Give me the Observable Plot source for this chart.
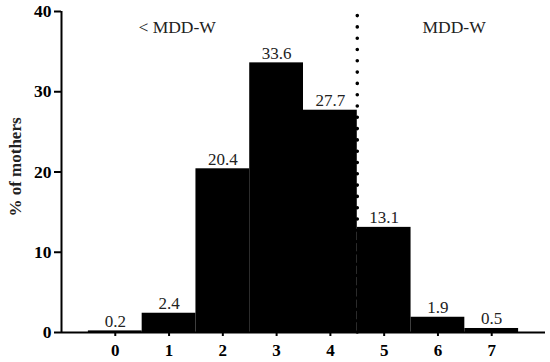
<!DOCTYPE html>
<html>
<head>
<meta charset="utf-8">
<script src="https://cdn.jsdelivr.net/npm/d3@7"></script>
<script src="https://cdn.jsdelivr.net/npm/@observablehq/plot@0.6"></script>
<style>
  html, body { margin: 0; padding: 0; background: #fff; }
  svg { display: block; }
</style>
</head>
<body>
<div id="chart"></div>
<script>
const categories = [0, 1, 2, 3, 4, 5, 6, 7];
const values = [0.2, 2.4, 20.4, 33.6, 27.7, 13.1, 1.9, 0.5];
const valueLabels = ["0.2", "2.4", "20.4", "33.6", "27.7", "13.1", "1.9", "0.5"];
const yTicks = [0, 10, 20, 30, 40];
const yTitle = "% of mothers";
const groupLabels = ["< MDD-W", "MDD-W"];
const cutoff = 4.5;

const data = categories.map((c, i) => ({ c, v: values[i], label: valueLabels[i] }));
const font = "Liberation Serif, Times New Roman, serif";

const chart = Plot.plot({
  width: 550,
  height: 362,
  marginLeft: 61,
  marginRight: 5,
  marginTop: 11,
  marginBottom: 30,
  style: { fontFamily: font, background: "#fff", color: "#000" },
  x: { type: "linear", domain: [-1, 8] },
  y: { domain: [0, 40] },
  marks: [
    Plot.rectY(data, { x1: d => d.c - 0.5, x2: d => d.c + 0.5, y1: 0, y2: "v", fill: "#000" }),
    Plot.ruleX([cutoff], { y1: 0, y2: 39.7, stroke: "#000", strokeWidth: 3.6, strokeDasharray: "0,11.3", strokeLinecap: "round" }),
    Plot.text(data, { x: "c", y: "v", text: "label", dy: -4, lineAnchor: "bottom", fontSize: 17, fill: "#222" }),
    Plot.text([groupLabels[0]], { x: 1.15, y: 38, text: d => d, fontSize: 17.5, fill: "#222" }),
    Plot.text([groupLabels[1]], { x: 6.3, y: 38, text: d => d, fontSize: 17.5, fill: "#222" }),
    Plot.axisY({ ticks: yTicks, tickSize: 7, tickPadding: 3, tickFormat: d => String(d), fontSize: 17.5, fontWeight: "bold", label: null, strokeWidth: 2 }),
    Plot.axisX({ ticks: categories, tickSize: 4, tickPadding: 7, tickFormat: d => String(d), fontSize: 17, fontWeight: "bold", label: null, strokeWidth: 2 }),
    Plot.ruleY([0], { x1: -1, x2: 8, stroke: "#000", strokeWidth: 2 }),
    Plot.ruleX([-1], { y1: 0, y2: 40, stroke: "#000", strokeWidth: 2 }),
    Plot.text([yTitle], { frameAnchor: "left", textAnchor: "middle", lineAnchor: "middle", text: d => d, rotate: -90, dx: -46, dy: -5, fontSize: 17, fontWeight: "bold", fill: "#222" })
  ]
});
document.getElementById("chart").appendChild(chart);
</script>
</body>
</html>
